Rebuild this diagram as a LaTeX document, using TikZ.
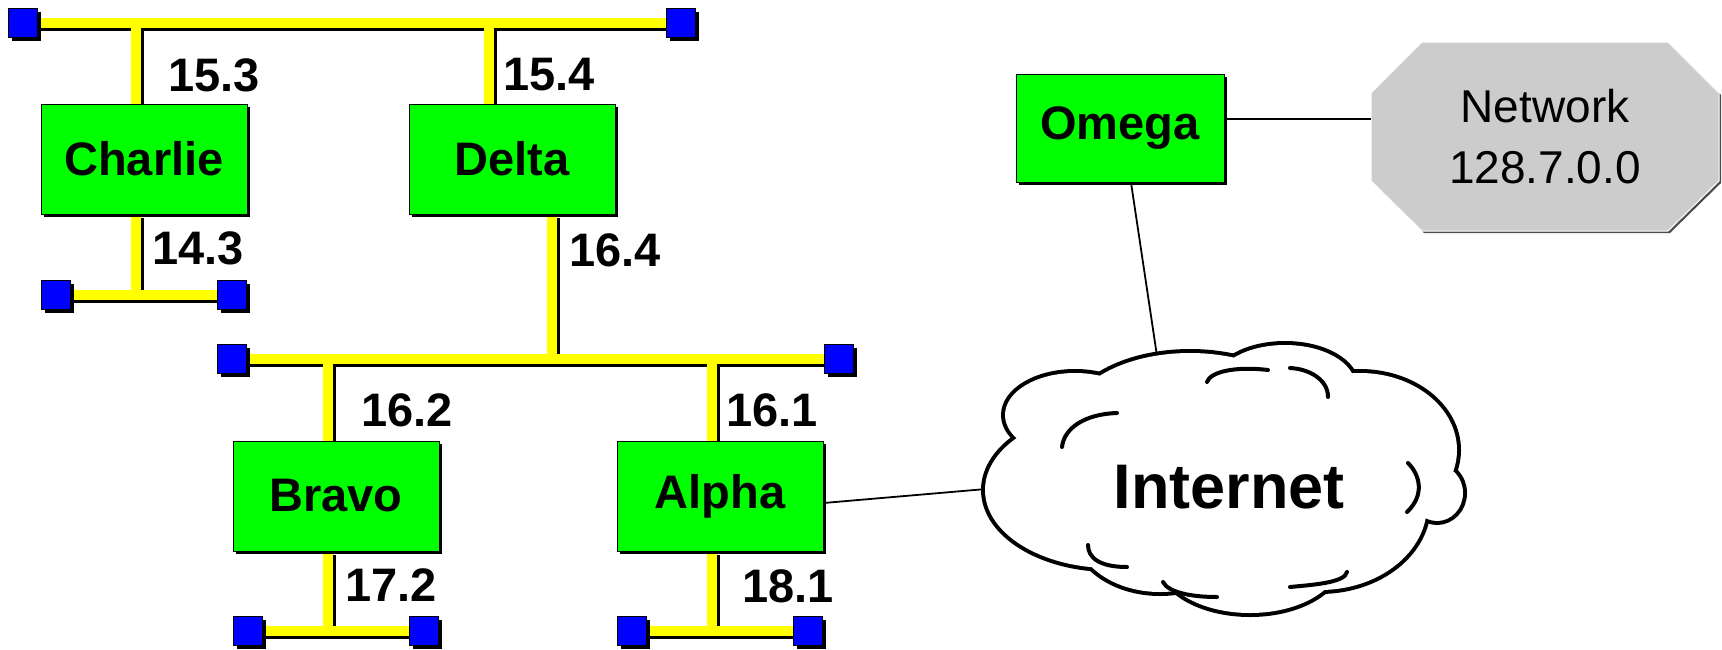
\documentclass[tikz,border=0pt]{standalone}
\usepackage{fontspec}
\setmainfont{Liberation Sans}
\usetikzlibrary{shadows,backgrounds,calc}
\definecolor{ybar}{HTML}{FFFF00}
\definecolor{bsq}{HTML}{0000FF}
\definecolor{gbox}{HTML}{00FF00}
\definecolor{netgray}{HTML}{CCCCCC}
\newcommand\netbars[1]{%
 \draw[#1] (t1.center) -- (t2.center);
 \draw[#1] (cl1.center) -- (cl2.center);
 \draw[#1] (m1.center) -- (m2.center);
 \draw[#1] (bl1.center) -- (bl2.center);
 \draw[#1] (al1.center) -- (al2.center);
 \draw[#1] (cU) -- (cU |- charlie.north);
 \draw[#1] (cD) -- (cD |- charlie.south);
 \draw[#1] (dU) -- (dU |- delta.north);
 \draw[#1] (dD) -- (dD |- delta.south);
 \draw[#1] (bU) -- (bU |- bravo.north);
 \draw[#1] (bD) -- (bD |- bravo.south);
 \draw[#1] (aU) -- (aU |- alpha.north);
 \draw[#1] (aD) -- (aD |- alpha.south);
}
\begin{document}
\begin{tikzpicture}[x=1pt,y=-1pt,
  sq/.style={draw=black, line width=0.6pt, fill=bsq, minimum size=29pt, inner sep=0pt,
     drop shadow={shadow xshift=3pt, shadow yshift=-3pt, fill=black, opacity=1}},
  host/.style={draw=black, line width=1pt, fill=gbox, minimum width=206pt, minimum height=110pt,
     inner sep=0pt, font=\fontsize{47}{56}\selectfont\bfseries,
     drop shadow={shadow xshift=3pt, shadow yshift=-3pt, fill=black, opacity=1}},
  lbl/.style={font=\fontsize{47}{56}\selectfont\bfseries, inner sep=0pt},
  bar/.style={line width=10pt, draw=ybar},
  barsh/.style={line width=10pt, draw=black, transform canvas={shift={(3pt,-3pt)}}},
  link/.style={draw=black, line width=1.8pt},
  cloudline/.style={draw=black, line width=8pt},
  cloudarc/.style={draw=black, line width=4pt, line cap=round}
]
\useasboundingbox (0,0) rectangle (1722,649);

% terminators
\node[sq] (t1) at (23,23) {};
\node[sq] (t2) at (681,23) {};
\node[sq] (cl1) at (56,295) {};
\node[sq] (cl2) at (232,295) {};
\node[sq] (m1) at (232,359) {};
\node[sq] (m2) at (839,359) {};
\node[sq] (bl1) at (248,631) {};
\node[sq] (bl2) at (424,631) {};
\node[sq] (al1) at (632,631) {};
\node[sq] (al2) at (808,631) {};

% hosts
\node[host] (charlie) at (144,159) {Charlie};
\node[host] (delta) at (512,159) {Delta};
\node[host] (bravo) at (336,496) {Bravo};
\node[host] (alpha) at (720,496) {Alpha};
\node[host, minimum width=208pt, minimum height=108pt] (omega) at (1120,128) {Omega};

% drop points
\coordinate (cU) at (136,23);
\coordinate (cD) at (136,295);
\coordinate (dU) at (489,23);
\coordinate (dD) at (552,359);
\coordinate (bU) at (328,359);
\coordinate (bD) at (328,631);
\coordinate (aU) at (712,359);
\coordinate (aD) at (712,631);

\begin{pgfonlayer}{background}
\netbars{barsh}
\netbars{bar}
\end{pgfonlayer}

% address labels
\node[lbl] (l153) at (214,75) {15.3};
\node[lbl] (l154) at (549,75) {15.4};
\node[lbl] (l143) at (198,248) {14.3};
\node[lbl] (l164) at (615,250) {16.4};
\node[lbl] (l162) at (407,410) {16.2};
\node[lbl] (l161) at (772,410) {16.1};
\node[lbl] (l172) at (391,585) {17.2};
\node[lbl] (l181) at (788,586) {18.1};

% network octagon
\fill[black!70, shift={(2,2)}] (1371,93) -- (1422,42) -- (1668,42) -- (1719,93) -- (1719,181) -- (1668,231) -- (1422,231) -- (1371,181) -- cycle;
\filldraw[fill=netgray, draw=white, line width=1pt] (1371,93) -- (1422,42) -- (1668,42) -- (1719,93) -- (1719,181) -- (1668,231) -- (1422,231) -- (1371,181) -- cycle;
\node[font=\fontsize{46}{61}\selectfont, align=center, minimum width=348pt, minimum height=189pt, inner sep=0pt] (net) at (1545,137) {Network\\128.7.0.0};

% links
\coordinate (cloudtop) at (1157,356);
\coordinate (cloudleft) at (986,489);
\draw[link] ([yshift=9pt]omega.east) -- ([yshift=9pt]omega.east -| net.west);
\draw[link] ([xshift=11pt]omega.south) -- (cloudtop);
\draw[link] ([yshift=-7pt]alpha.east) -- (cloudleft);

% cloud
\foreach \cx/\cy/\rx/\ry in {1110/490/125/78, 1075/415/70/42, 1190/420/120/67, 1285/385/70/40,
  1360/450/97/77, 1437/493/26/28, 1320/505/107/85, 1250/560/90/53, 1160/530/85/62}
  \draw[cloudline] (\cx,\cy) ellipse [x radius=\rx pt, y radius=\ry pt];
\foreach \cx/\cy/\rx/\ry in {1110/490/125/78, 1075/415/70/42, 1190/420/120/67, 1285/385/70/40,
  1360/450/97/77, 1437/493/26/28, 1320/505/107/85, 1250/560/90/53, 1160/530/85/62, 1230/485/180/90}
  \fill[white] (\cx,\cy) ellipse [x radius=\rx pt, y radius=\ry pt];
\draw[cloudarc] (1062,447) .. controls (1064,428) and (1085,414) .. (1117,413);
\draw[cloudarc] (1207,382) .. controls (1210,372) and (1235,366) .. (1268,370);
\draw[cloudarc] (1290,368) .. controls (1310,369) and (1328,380) .. (1328,397);
\draw[cloudarc] (1408,463) .. controls (1420,475) and (1425,495) .. (1407,512);
\draw[cloudarc] (1088,545) .. controls (1088,558) and (1100,567) .. (1127,567);
\draw[cloudarc] (1163,582) .. controls (1168,592) and (1190,597) .. (1217,597);
\draw[cloudarc] (1290,587) .. controls (1310,585) and (1345,583) .. (1347,572);
\node[font=\fontsize{63}{70}\selectfont\bfseries, inner sep=0pt] (inet) at (1229,487) {Internet};
\end{tikzpicture}
\end{document}
